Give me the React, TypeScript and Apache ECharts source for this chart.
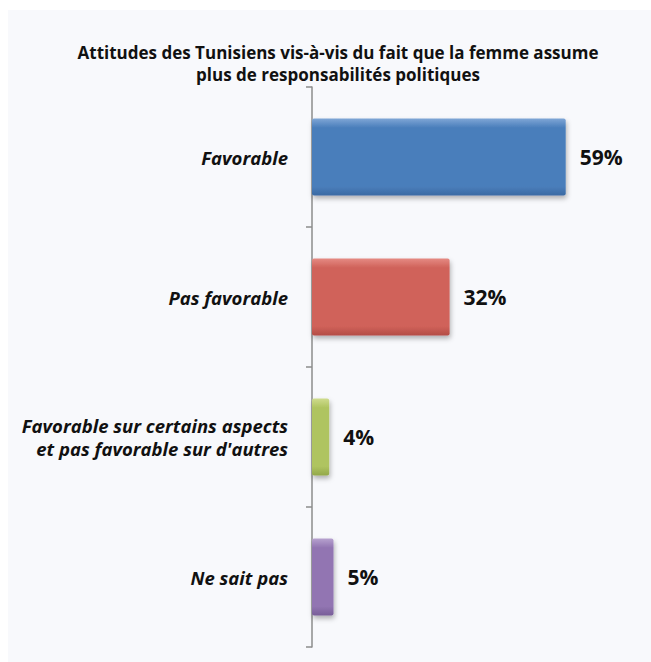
import React, { useEffect, useRef } from "react";
import * as echarts from "echarts";

const titleLines = [
  "Attitudes des Tunisiens vis-à-vis du fait que la femme assume",
  "plus de responsabilités politiques",
];
const categories = [
  "Favorable",
  "Pas favorable",
  "Favorable sur certains aspects\net pas favorable sur d'autres",
  "Ne sait pas",
];
const values = [59, 32, 4, 5];
const barColors = [
  ["#7fa6d6", "#4a7ebb", "#3b6aa3"],
  ["#e58a83", "#d0625a", "#b34c45"],
  ["#cfdc8e", "#afc460", "#93a84a"],
  ["#b7a2cf", "#9275b2", "#785e98"],
];

const FONT = "'Open Sans', 'Noto Sans', sans-serif";

export default function App() {
  const ref = useRef<HTMLDivElement>(null);
  useEffect(() => {
    const chart = echarts.init(ref.current!, null, { renderer: "svg" });
    chart.setOption({
      animation: false,
      backgroundColor: "#ffffff",
      graphic: [
        {
          type: "rect",
          shape: { x: 8, y: 10, width: 643, height: 652 },
          style: { fill: "#f8f9fc" },
          z: -10,
        },
      ],
      title: {
        text: titleLines.join("\n"),
        left: 333,
        textAlign: "center",
        top: 36,
        textStyle: {
          fontFamily: FONT,
          fontWeight: "bold",
          fontSize: 17,
          lineHeight: 22,
          color: "#111",
        },
      },
      grid: { left: 312, top: 87, width: 301, height: 560 },
      xAxis: {
        type: "value",
        min: 0,
        max: 70,
        show: false,
      },
      yAxis: {
        type: "category",
        inverse: true,
        data: categories,
        axisLine: { show: true, lineStyle: { color: "#8c8c8c", width: 1.5 } },
        axisTick: { show: true, length: 6, lineStyle: { color: "#8c8c8c", width: 1.5 } },
        axisLabel: {
          margin: 24,
          fontFamily: FONT,
          fontStyle: "italic",
          fontWeight: "bold",
          fontSize: 18.5,
          lineHeight: 23,
          color: "#111",
          align: "right",
        },
      },
      series: [
        {
          type: "bar",
          barWidth: 77,
          data: values.map((v, i) => ({
            value: v,
            itemStyle: {
              color: new echarts.graphic.LinearGradient(0, 0, 0, 1, [
                { offset: 0, color: barColors[i][0] },
                { offset: 0.12, color: barColors[i][1] },
                { offset: 0.88, color: barColors[i][1] },
                { offset: 1, color: barColors[i][2] },
              ]),
              borderRadius: 2,
              shadowColor: "rgba(0,0,0,0.3)",
              shadowBlur: 5,
              shadowOffsetX: 1,
              shadowOffsetY: 3,
            },
          })),
          label: {
            show: true,
            position: "right",
            distance: 14,
            formatter: "{c}%",
            fontFamily: FONT,
            fontWeight: "bold",
            fontSize: 21,
            color: "#111",
          },
        },
      ],
    });
    return () => chart.dispose();
  }, []);
  return <div ref={ref} style={{ width: 651, height: 662, position: "absolute", left: 0, top: 0 }} />;
}
